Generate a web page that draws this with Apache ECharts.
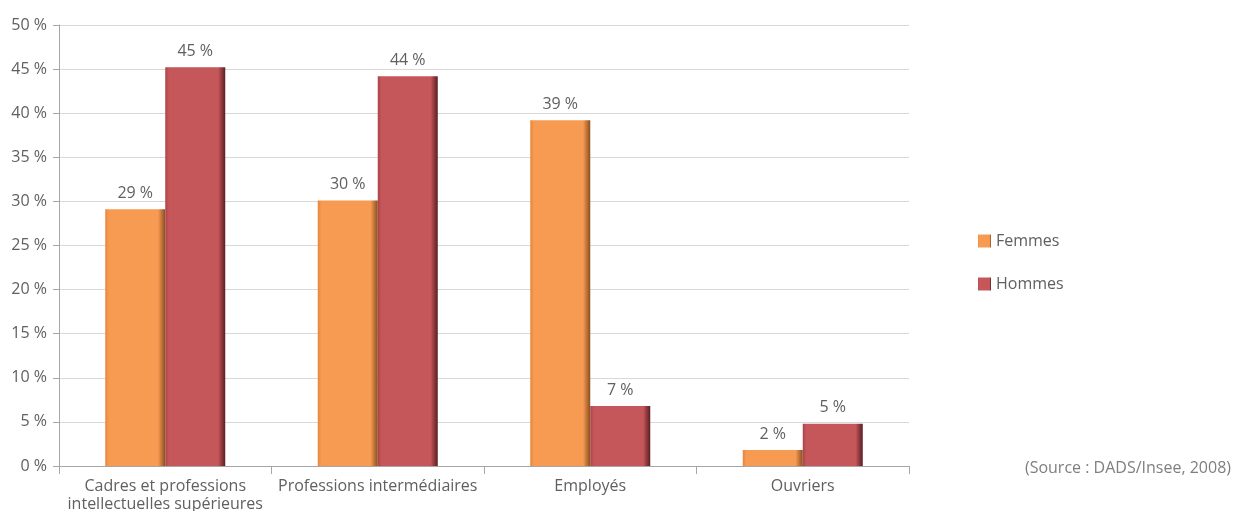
<!DOCTYPE html>
<html>
<head>
<meta charset="utf-8">
<script src="https://cdn.jsdelivr.net/npm/echarts@6/dist/echarts.min.js"></script>
<style>
  html,body{margin:0;padding:0;background:#fff;}
  #b{width:1233px;height:511px;}
</style>
</head>
<body>
<div id="b"></div>
<script>
var categories=['Cadres et professions\nintellectuelles supérieures','Professions intermédiaires','Employés','Ouvriers'];
var femmes=[29.1,30.1,39.2,1.8];
var hommes=[45.2,44.2,6.8,4.8];
var yTicks=[0,50,5];// min, max, interval

function bevel(c1,c2,c3){
  return new echarts.graphic.LinearGradient(0,0,1,0,[
    {offset:0,color:c3},
    {offset:0.06,color:c1},
    {offset:0.88,color:c1},
    {offset:1,color:c2}
  ]);
}

var myChart=echarts.init(document.getElementById('b'));
var txt='#606060';
var ff='Open Sans';
option={
  textStyle:{fontFamily:ff},
  grid:{left:59,right:324,top:25,bottom:45,outerBoundsMode:'none',containLabel:false},
  xAxis:{
    type:'category',
    data:categories,
    axisLine:{lineStyle:{color:'#A6A6A6',width:1}},
    axisTick:{show:true,length:8,lineStyle:{color:'#A6A6A6'}},
    axisLabel:{color:txt,fontSize:16,fontFamily:ff,margin:11,lineHeight:18,interval:0}
  },
  yAxis:{
    type:'value',
    min:yTicks[0],max:yTicks[1],interval:yTicks[2],
    axisLine:{show:true,lineStyle:{color:'#A6A6A6'}},
    axisTick:{show:true,length:6,lineStyle:{color:'#A6A6A6'}},
    axisLabel:{color:txt,fontSize:16,fontFamily:ff,margin:12,formatter:'{value} %'},
    splitLine:{lineStyle:{color:'#D9D9D9'}}
  },
  legend:{
    data:['Femmes','Hommes'],
    orient:'vertical',
    left:973,top:228,
    itemWidth:13,itemHeight:13,itemGap:27,
    icon:'rect',
    textStyle:{color:txt,fontSize:16,fontFamily:ff}
  },
  series:[
    {
      name:'Femmes',type:'bar',data:femmes,
      barWidth:60,barGap:'0%',
      itemStyle:{color:bevel('#F79A52','#8A4E1F','#E8853A')},
      label:{show:true,position:'top',distance:8,color:txt,fontSize:16,fontFamily:ff,
        formatter:function(p){return Math.round(p.value)+' %';}}
    },
    {
      name:'Hommes',type:'bar',data:hommes,
      barWidth:60,barGap:'0%',
      itemStyle:{color:bevel('#C5565A','#5A1E22','#A9444A')},
      label:{show:true,position:'top',distance:8,color:txt,fontSize:16,fontFamily:ff,
        formatter:function(p){return Math.round(p.value)+' %';}}
    }
  ],
  graphic:[
    {type:'text',right:2,top:460,style:{text:'(Source : DADS/Insee, 2008)',fill:'#7F7F7F',font:'16px "Open Sans"'}}
  ]
};
option && myChart.setOption(option);
</script>
</body>
</html>
